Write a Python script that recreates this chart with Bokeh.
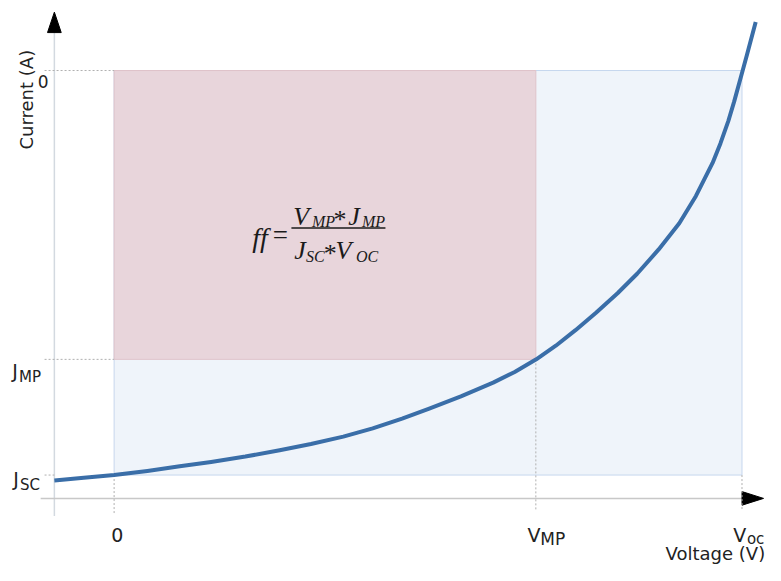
from bokeh.plotting import figure
from bokeh.models import Range1d
from bokeh.embed import file_html
from bokeh.resources import INLINE
from bokeh.core.properties import value
import math

# ---------------- data ----------------
VOLTAGE = [-0.0571, -0.0290, 0.0000, 0.0318, 0.0627, 0.0927, 0.1254, 0.1582, 0.1881,
           0.2190, 0.2471, 0.2752, 0.3005, 0.3314, 0.3622, 0.3828, 0.4034, 0.4221,
           0.4409, 0.4605, 0.4811, 0.4998, 0.5204, 0.5401, 0.5560, 0.5719, 0.5794,
           0.5869, 0.5925, 0.5981, 0.6047, 0.6131]
CURRENT = [-1.0132, -1.0067, -1.0000, -0.9899, -0.9784, -0.9675, -0.9543, -0.9387, -0.9231,
           -0.9050, -0.8846, -0.8606, -0.8365, -0.8053, -0.7716, -0.7452, -0.7139, -0.6803,
           -0.6418, -0.5986, -0.5505, -0.5024, -0.4423, -0.3774, -0.3101, -0.2284, -0.1803,
           -0.1250, -0.0769, -0.0240, 0.0385, 0.1202]
V_OC = 0.600
V_MP = 0.403
J_SC = -1.000
J_MP = -0.714
X_TITLE = "Voltage (V)"
Y_TITLE = "Current (A)"

# ---------------- layout (reference pixels, 781 x 581) ----------------
W, H = 765, 565
REF_W, REF_H = 781, 581
PX_V0, PX_VOC = 116, 757
PY_J0, PY_JSC = 72, 488


def X(px):
    return (px - PX_V0) / (PX_VOC - PX_V0) * V_OC


def Y(py):
    return (py - PY_J0) / (PY_JSC - PY_J0) * J_SC


p = figure(width=W, height=H, output_backend="svg", toolbar_location=None,
           x_axis_type=None, y_axis_type=None, title=None, min_border=0,
           x_range=Range1d(X(0), X(REF_W)), y_range=Range1d(Y(REF_H), Y(0)))
p.outline_line_color = None
p.background_fill_color = "white"
p.border_fill_color = "white"

# rectangles
p.quad(left=[0], right=[V_OC], bottom=[J_SC], top=[0], fill_color="#eff4fa",
       line_color="#c6d7ee", line_width=1)
p.quad(left=[0], right=[V_MP], bottom=[J_MP], top=[0], fill_color="#e8d5db",
       line_color="#dfc3ca", line_width=1)

# axes lines with arrow heads
AX_X, AX_Y = 55, 512
p.line([X(AX_X), X(AX_X)], [Y(33), Y(530)], line_color="#d3d9e0", line_width=1.5)
p.line([X(41), X(758)], [Y(AX_Y), Y(AX_Y)], line_color="#c8c8c8", line_width=1.5)
p.patch([X(AX_X), X(AX_X - 7), X(AX_X + 7)], [Y(12), Y(33), Y(33)], fill_color="black",
        line_color="black")
p.patch([X(779), X(757), X(757)], [Y(AX_Y), Y(AX_Y - 7), Y(AX_Y + 7)], fill_color="black",
        line_color="black")

# dotted guides
dot = dict(line_color="#b0b0b0", line_width=1, line_dash="2 2")
p.segment(x0=[X(45), X(45)], y0=[0, J_MP], x1=[0, 0], y1=[0, J_MP], **dot)
p.segment(x0=[X(45)], y0=[J_SC], x1=[X(AX_X)], y1=[J_SC], **dot)
p.segment(x0=[0, V_MP, V_OC], y0=[J_SC, J_MP, J_SC], x1=[0, V_MP, V_OC],
          y1=[Y(528), Y(525), Y(525)], **dot)

# curve
p.line(VOLTAGE, CURRENT, line_color="#3a6ea8", line_width=4, line_join="round")

# ---------------- labels ----------------
SANS = value("DejaVu Sans")
TXT = "#222222"


def lab(px, py, s, size, font=SANS, style="normal", align="left", baseline="alphabetic",
        angle=0.0, color=TXT):
    p.text(x=[X(px)], y=[Y(py)], text=[s], text_font=font, text_font_size=f"{size}px",
           text_font_style=style, text_align=align, text_baseline=baseline, angle=angle,
           text_color=color)


lab(27, 102, Y_TITLE, 18, align="center", baseline="middle", angle=math.pi / 2)
lab(38, 83, "0", 17)
lab(12, 381, "J", 19)
lab(19, 387, "MP", 15)
lab(13, 492, "J", 19)
lab(20, 498, "SC", 15)
lab(113, 550, "0", 19)
lab(538, 550, "V", 19)
lab(551, 554, "MP", 17)
lab(748, 550, "V", 19)
lab(762, 554, "oc", 15)
lab(679, 569, X_TITLE, 18)

# formula
SERIF = value("Liberation Serif")
FC = "#1a1a1a"
lab(257, 244, "ff", 28, font=SERIF, style="italic", color=FC)
lab(278, 241, "=", 27, font=SERIF, color=FC)
p.line([X(297), X(393)], [Y(234), Y(234)], line_color=FC, line_width=1.5)
lab(299, 222, "V", 26, font=SERIF, style="italic", color=FC)
lab(318, 227, "MP", 16, font=SERIF, style="italic", color=FC)
lab(340, 225, "*", 26, font=SERIF, color=FC)
lab(355, 222, "J", 26, font=SERIF, style="italic", color=FC)
lab(369, 227, "MP", 16, font=SERIF, style="italic", color=FC)
lab(300, 257, "J", 26, font=SERIF, style="italic", color=FC)
lab(312, 263, "SC", 16, font=SERIF, style="italic", color=FC)
lab(330, 260, "*", 26, font=SERIF, color=FC)
lab(342, 257, "V", 26, font=SERIF, style="italic", color=FC)
lab(363, 263, "OC", 16, font=SERIF, style="italic", color=FC)

open("out.html", "w").write(file_html(p, INLINE))
